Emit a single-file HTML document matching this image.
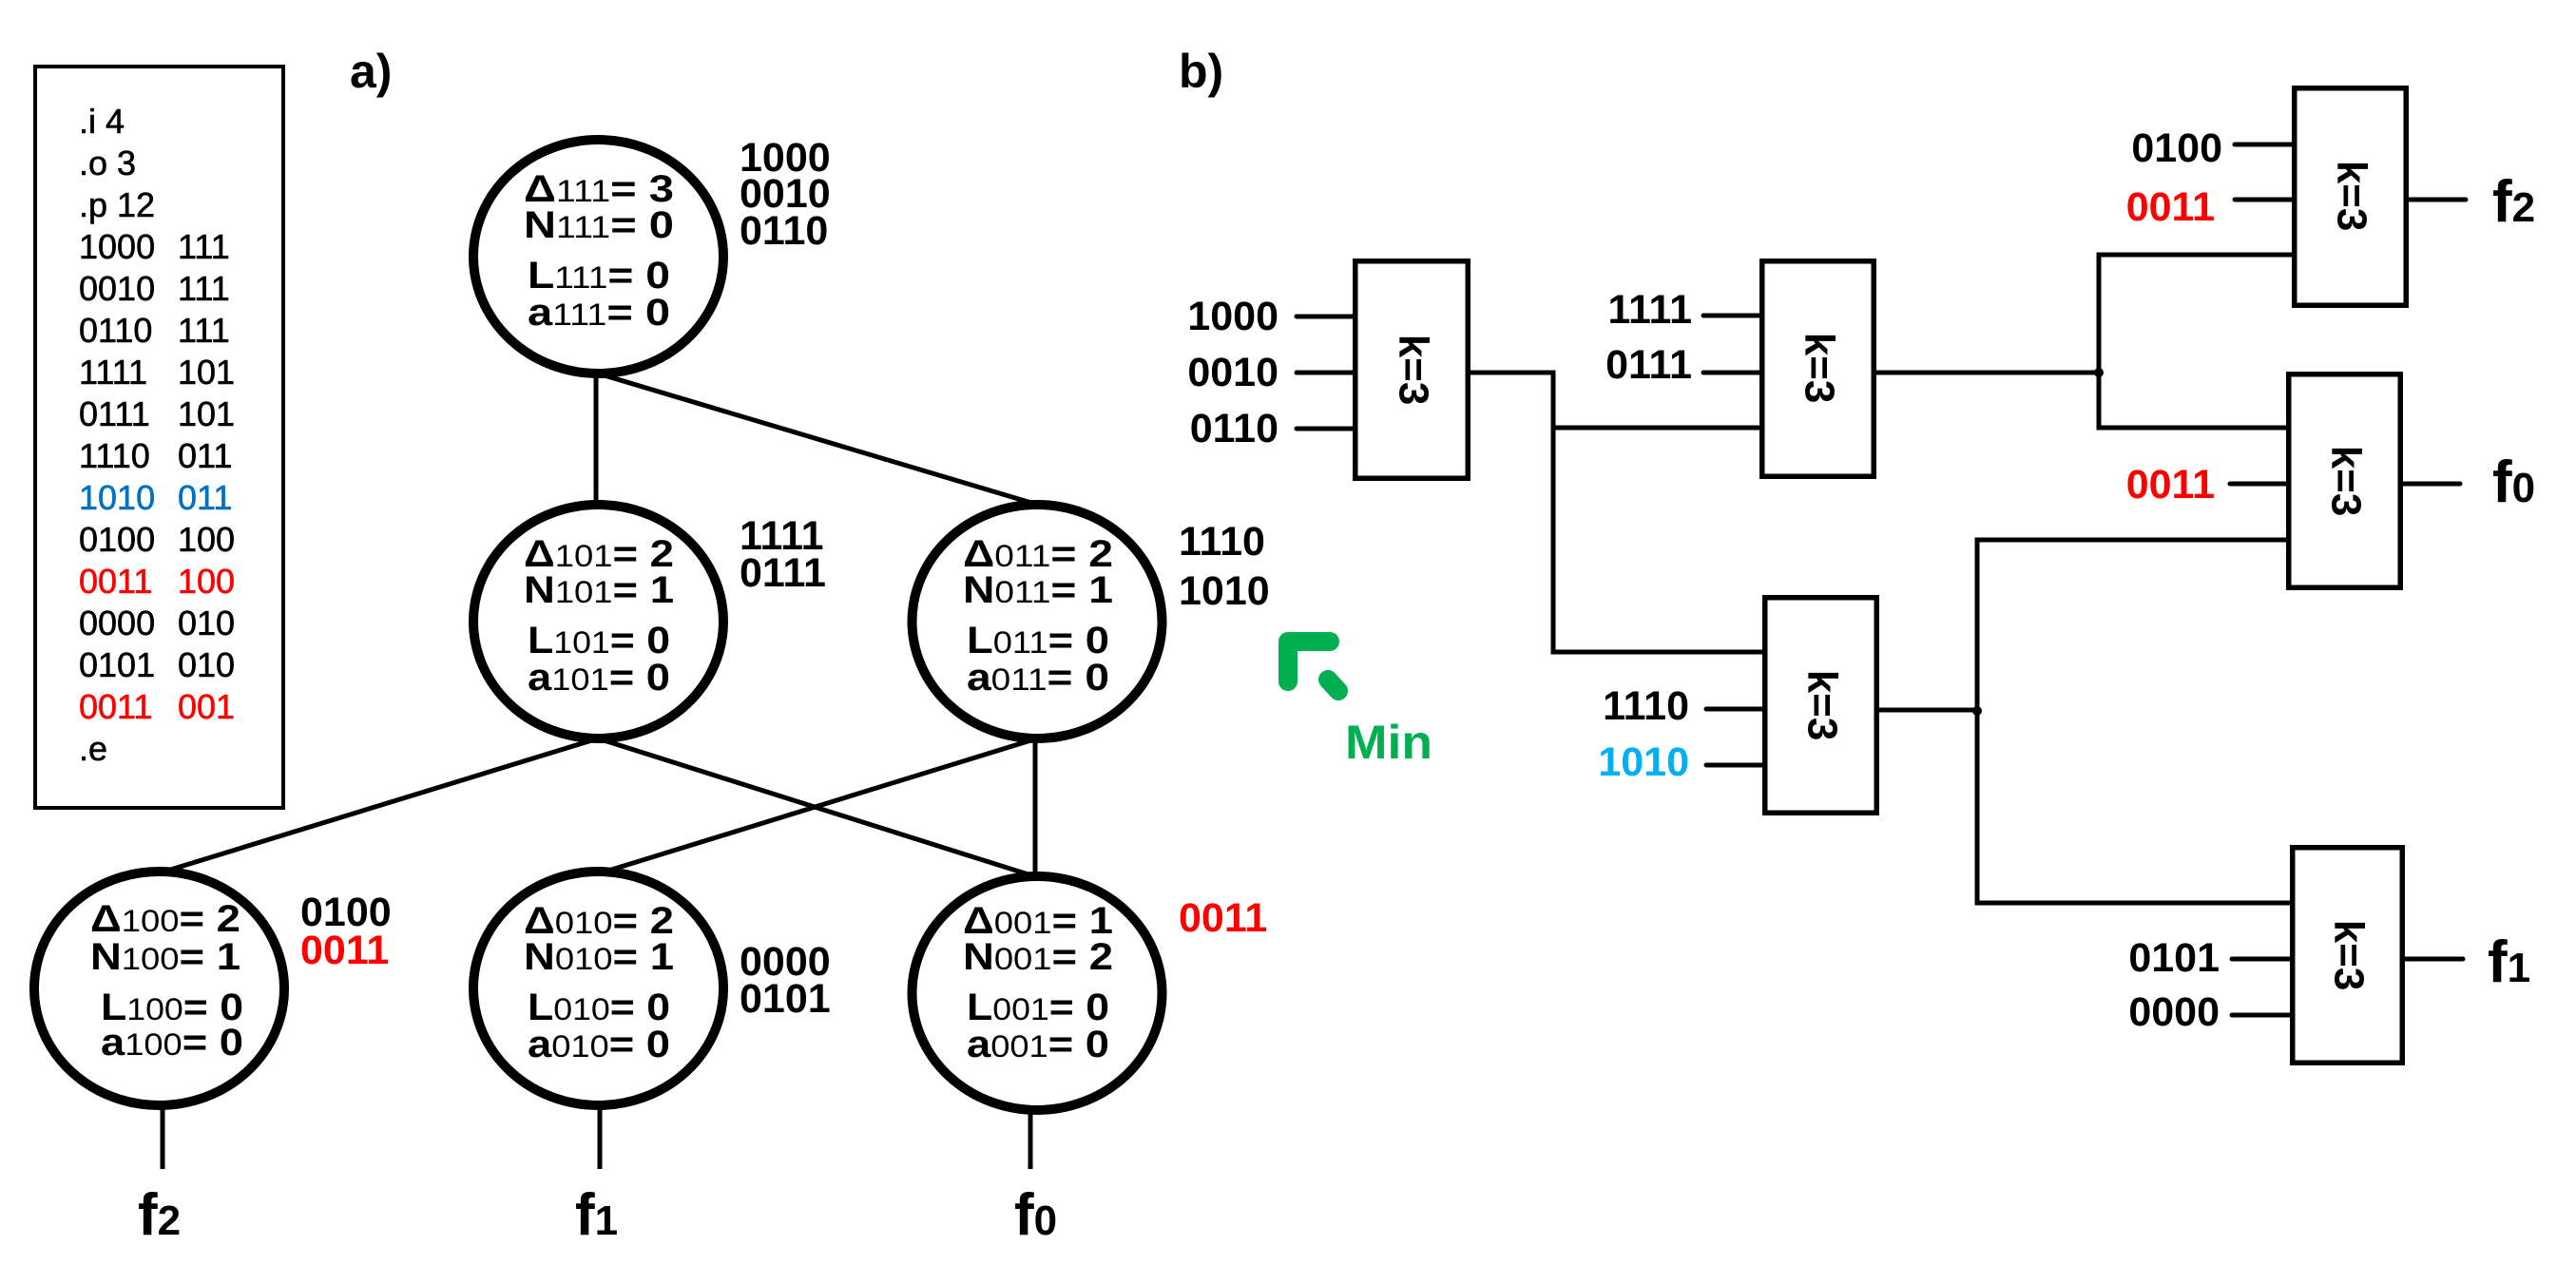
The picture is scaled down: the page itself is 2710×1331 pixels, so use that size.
<!DOCTYPE html>
<html><head><meta charset="utf-8"><style>
html,body{margin:0;padding:0;background:#fff;}
svg{display:block;}
text{font-family:"Liberation Sans",Arial,sans-serif;}
.b{font-weight:bold;}
.lab{font-weight:bold;font-size:43px;}
.k{font-size:44px;font-weight:bold;}
</style></head><body>
<svg width="2710" height="1331" viewBox="0 0 2710 1331" xmlns="http://www.w3.org/2000/svg">
<rect width="2710" height="1331" fill="#fff"/>
<rect x="37" y="70" width="261" height="780" fill="none" stroke="#000" stroke-width="4"/>
<g font-size="36" stroke="#000" stroke-width="0.6">
<text x="83" y="140">.i 4</text>
<text x="83" y="184">.o 3</text>
<text x="83" y="228">.p 12</text>
<text x="83" y="272">1000</text><text x="187" y="272">111</text>
<text x="83" y="316">0010</text><text x="187" y="316">111</text>
<text x="83" y="360">0110</text><text x="187" y="360">111</text>
<text x="83" y="404">1111</text><text x="187" y="404">101</text>
<text x="83" y="448">0111</text><text x="187" y="448">101</text>
<text x="83" y="492">1110</text><text x="187" y="492">011</text>
<text x="83" y="536" fill="#0070c0" stroke="#0070c0">1010</text><text x="187" y="536" fill="#0070c0" stroke="#0070c0">011</text>
<text x="83" y="580">0100</text><text x="187" y="580">100</text>
<text x="83" y="624" fill="#ff0000" stroke="#ff0000">0011</text><text x="187" y="624" fill="#ff0000" stroke="#ff0000">100</text>
<text x="83" y="668">0000</text><text x="187" y="668">010</text>
<text x="83" y="712">0101</text><text x="187" y="712">010</text>
<text x="83" y="756" fill="#ff0000" stroke="#ff0000">0011</text><text x="187" y="756" fill="#ff0000" stroke="#ff0000">001</text>
<text x="83" y="800">.e</text>
</g>
<text x="368" y="92" class="b" font-size="50">a)</text>
<text x="1240" y="92" class="b" font-size="50">b)</text>

<g stroke="#000" stroke-width="5" fill="none">
<line x1="627" y1="393" x2="627" y2="532"/>
<line x1="629" y1="393" x2="1095" y2="532"/>
<line x1="629" y1="777" x2="173" y2="917"/>
<line x1="629" y1="777" x2="1088" y2="922"/>
<line x1="1091" y1="777" x2="637" y2="917"/>
<line x1="1089" y1="777" x2="1089" y2="922"/>
<line x1="171" y1="1165" x2="171" y2="1230"/>
<line x1="631" y1="1165" x2="631" y2="1230"/>
<line x1="1084" y1="1170" x2="1084" y2="1230"/>
</g>
<g fill="none" stroke="#000" stroke-width="10">
<ellipse cx="629.5" cy="270" rx="131.5" ry="123"/>
<ellipse cx="629.5" cy="654" rx="131.5" ry="123"/>
<ellipse cx="1091" cy="654" rx="131.5" ry="123"/>
<ellipse cx="167.5" cy="1040" rx="131.5" ry="123"/>
<ellipse cx="629.5" cy="1040" rx="131.5" ry="123"/>
<ellipse cx="1091" cy="1045" rx="131.5" ry="123"/>
</g>
<g text-anchor="middle">
<text x="630" y="212" textLength="158" lengthAdjust="spacingAndGlyphs"><tspan class="b" font-size="40">Δ</tspan><tspan font-size="32">111</tspan><tspan class="b" font-size="40">= 3</tspan></text>
<text x="630" y="250" textLength="158" lengthAdjust="spacingAndGlyphs"><tspan class="b" font-size="40">N</tspan><tspan font-size="32">111</tspan><tspan class="b" font-size="40">= 0</tspan></text>
<text x="630" y="303" textLength="150" lengthAdjust="spacingAndGlyphs"><tspan class="b" font-size="40">L</tspan><tspan font-size="32">111</tspan><tspan class="b" font-size="40">= 0</tspan></text>
<text x="630" y="342" textLength="150" lengthAdjust="spacingAndGlyphs"><tspan class="b" font-size="40">a</tspan><tspan font-size="32">111</tspan><tspan class="b" font-size="40">= 0</tspan></text>

<text x="630" y="596" textLength="158" lengthAdjust="spacingAndGlyphs"><tspan class="b" font-size="40">Δ</tspan><tspan font-size="32">101</tspan><tspan class="b" font-size="40">= 2</tspan></text>
<text x="630" y="634" textLength="158" lengthAdjust="spacingAndGlyphs"><tspan class="b" font-size="40">N</tspan><tspan font-size="32">101</tspan><tspan class="b" font-size="40">= 1</tspan></text>
<text x="630" y="687" textLength="150" lengthAdjust="spacingAndGlyphs"><tspan class="b" font-size="40">L</tspan><tspan font-size="32">101</tspan><tspan class="b" font-size="40">= 0</tspan></text>
<text x="630" y="726" textLength="150" lengthAdjust="spacingAndGlyphs"><tspan class="b" font-size="40">a</tspan><tspan font-size="32">101</tspan><tspan class="b" font-size="40">= 0</tspan></text>

<text x="1092" y="596" textLength="158" lengthAdjust="spacingAndGlyphs"><tspan class="b" font-size="40">Δ</tspan><tspan font-size="32">011</tspan><tspan class="b" font-size="40">= 2</tspan></text>
<text x="1092" y="634" textLength="158" lengthAdjust="spacingAndGlyphs"><tspan class="b" font-size="40">N</tspan><tspan font-size="32">011</tspan><tspan class="b" font-size="40">= 1</tspan></text>
<text x="1092" y="687" textLength="150" lengthAdjust="spacingAndGlyphs"><tspan class="b" font-size="40">L</tspan><tspan font-size="32">011</tspan><tspan class="b" font-size="40">= 0</tspan></text>
<text x="1092" y="726" textLength="150" lengthAdjust="spacingAndGlyphs"><tspan class="b" font-size="40">a</tspan><tspan font-size="32">011</tspan><tspan class="b" font-size="40">= 0</tspan></text>

<text x="174" y="980" textLength="158" lengthAdjust="spacingAndGlyphs"><tspan class="b" font-size="40">Δ</tspan><tspan font-size="32">100</tspan><tspan class="b" font-size="40">= 2</tspan></text>
<text x="174" y="1020" textLength="158" lengthAdjust="spacingAndGlyphs"><tspan class="b" font-size="40">N</tspan><tspan font-size="32">100</tspan><tspan class="b" font-size="40">= 1</tspan></text>
<text x="181" y="1073" textLength="150" lengthAdjust="spacingAndGlyphs"><tspan class="b" font-size="40">L</tspan><tspan font-size="32">100</tspan><tspan class="b" font-size="40">= 0</tspan></text>
<text x="181" y="1110" textLength="150" lengthAdjust="spacingAndGlyphs"><tspan class="b" font-size="40">a</tspan><tspan font-size="32">100</tspan><tspan class="b" font-size="40">= 0</tspan></text>

<text x="630" y="982" textLength="158" lengthAdjust="spacingAndGlyphs"><tspan class="b" font-size="40">Δ</tspan><tspan font-size="32">010</tspan><tspan class="b" font-size="40">= 2</tspan></text>
<text x="630" y="1020" textLength="158" lengthAdjust="spacingAndGlyphs"><tspan class="b" font-size="40">N</tspan><tspan font-size="32">010</tspan><tspan class="b" font-size="40">= 1</tspan></text>
<text x="630" y="1073" textLength="150" lengthAdjust="spacingAndGlyphs"><tspan class="b" font-size="40">L</tspan><tspan font-size="32">010</tspan><tspan class="b" font-size="40">= 0</tspan></text>
<text x="630" y="1112" textLength="150" lengthAdjust="spacingAndGlyphs"><tspan class="b" font-size="40">a</tspan><tspan font-size="32">010</tspan><tspan class="b" font-size="40">= 0</tspan></text>

<text x="1092" y="982" textLength="158" lengthAdjust="spacingAndGlyphs"><tspan class="b" font-size="40">Δ</tspan><tspan font-size="32">001</tspan><tspan class="b" font-size="40">= 1</tspan></text>
<text x="1092" y="1020" textLength="158" lengthAdjust="spacingAndGlyphs"><tspan class="b" font-size="40">N</tspan><tspan font-size="32">001</tspan><tspan class="b" font-size="40">= 2</tspan></text>
<text x="1092" y="1073" textLength="150" lengthAdjust="spacingAndGlyphs"><tspan class="b" font-size="40">L</tspan><tspan font-size="32">001</tspan><tspan class="b" font-size="40">= 0</tspan></text>
<text x="1092" y="1112" textLength="150" lengthAdjust="spacingAndGlyphs"><tspan class="b" font-size="40">a</tspan><tspan font-size="32">001</tspan><tspan class="b" font-size="40">= 0</tspan></text>
</g>
<g class="lab">
<text x="778" y="180">1000</text><text x="778" y="218">0010</text><text x="778" y="257">0110</text>
<text x="778" y="578">1111</text><text x="778" y="617">0111</text>
<text x="1240" y="584">1110</text><text x="1240" y="636">1010</text>
<text x="316" y="974">0100</text><text x="316" y="1014" fill="#ff0000">0011</text>
<text x="778" y="1026">0000</text><text x="778" y="1065">0101</text>
<text x="1240" y="980" fill="#ff0000">0011</text>
</g>
<g class="b">
<text x="145" y="1299" font-size="62">f<tspan font-size="44">2</tspan></text>
<text x="605" y="1299" font-size="62">f<tspan font-size="44">1</tspan></text>
<text x="1067" y="1299" font-size="62">f<tspan font-size="44">0</tspan></text>
</g>

<g stroke="#00b050" stroke-width="20" stroke-linecap="round" stroke-linejoin="round" fill="none">
<polyline points="1355,717 1355,675 1399,675"/>
<line x1="1397" y1="715" x2="1408" y2="727"/>
</g>
<text x="1415" y="798" class="b" font-size="50" fill="#00b050" textLength="92" lengthAdjust="spacingAndGlyphs">Min</text>

<g stroke="#000" stroke-width="5.5" fill="none">
<rect x="1425.75" y="274.75" width="118.5" height="228.5"/>
<rect x="1853.75" y="274.75" width="117.5" height="226.5"/>
<rect x="1856.75" y="628.75" width="117.5" height="226.5"/>
<rect x="2413.75" y="92.75" width="117.5" height="228.5"/>
<rect x="2407.75" y="393.75" width="117.5" height="224.5"/>
<rect x="2411.75" y="891.75" width="115.5" height="226.5"/>
</g>
<g stroke="#000" stroke-width="5" fill="none" stroke-linecap="round">
<line x1="1364" y1="333" x2="1424" y2="333"/>
<line x1="1364" y1="392" x2="1424" y2="392"/>
<line x1="1364" y1="451" x2="1424" y2="451"/>
<polyline points="1547,392 1634,392 1634,686 1855,686" stroke-linecap="butt"/>
<line x1="1634" y1="450" x2="1852" y2="450" stroke-linecap="butt"/>
<line x1="1792" y1="332" x2="1852" y2="332"/>
<line x1="1792" y1="392" x2="1852" y2="392"/>
<line x1="1974" y1="392" x2="2208" y2="392" stroke-linecap="butt"/>
<polyline points="2412,268 2208,268 2208,450 2406,450" stroke-linecap="butt"/>
<line x1="2351" y1="152" x2="2412" y2="152"/>
<line x1="2351" y1="210" x2="2412" y2="210"/>
<line x1="2534" y1="210" x2="2594" y2="210"/>
<line x1="2346" y1="509" x2="2406" y2="509"/>
<line x1="2528" y1="509" x2="2588" y2="509"/>
<line x1="1795" y1="746" x2="1855" y2="746"/>
<line x1="1795" y1="805" x2="1855" y2="805"/>
<line x1="1977" y1="747" x2="2080" y2="747" stroke-linecap="butt"/>
<polyline points="2406,568 2080,568 2080,950 2410,950" stroke-linecap="butt"/>
<line x1="2348" y1="1009" x2="2410" y2="1009"/>
<line x1="2348" y1="1068" x2="2410" y2="1068"/>
<line x1="2530" y1="1009" x2="2591" y2="1009"/>
</g>
<circle cx="2208" cy="392" r="5" fill="#000"/>
<circle cx="2080" cy="748" r="5" fill="#000"/>
<g class="k" text-anchor="middle" dominant-baseline="central">
<text transform="translate(1487,389) rotate(90)">k=3</text>
<text transform="translate(1914,387) rotate(90)">k=3</text>
<text transform="translate(1917,742) rotate(90)">k=3</text>
<text transform="translate(2474,206) rotate(90)">k=3</text>
<text transform="translate(2468,506) rotate(90)">k=3</text>
<text transform="translate(2471,1005) rotate(90)">k=3</text>
</g>
<g class="lab" text-anchor="end">
<text x="1345" y="347">1000</text>
<text x="1345" y="406">0010</text>
<text x="1345" y="465">0110</text>
<text x="1780" y="340">1111</text>
<text x="1780" y="398">0111</text>
<text x="1777" y="757">1110</text>
<text x="1777" y="816" fill="#00b0f0">1010</text>
<text x="2338" y="170">0100</text>
<text x="2330" y="232" fill="#ff0000">0011</text>
<text x="2330" y="524" fill="#ff0000">0011</text>
<text x="2335" y="1022">0101</text>
<text x="2335" y="1079">0000</text>
</g>
<g class="b">
<text x="2622" y="233" font-size="62">f<tspan font-size="44">2</tspan></text>
<text x="2622" y="528" font-size="62">f<tspan font-size="44">0</tspan></text>
<text x="2617" y="1033" font-size="62">f<tspan font-size="44">1</tspan></text>
</g>
</svg>
</body></html>
